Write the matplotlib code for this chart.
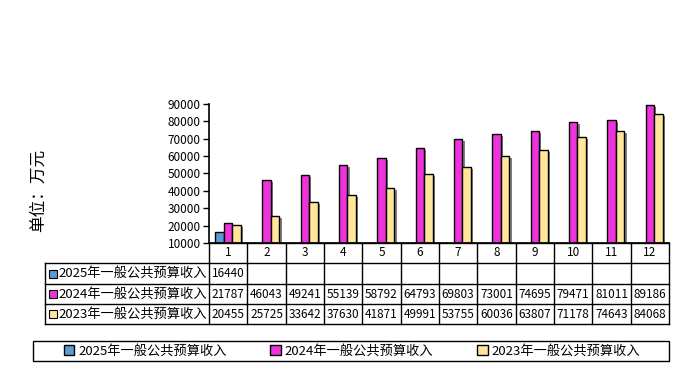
import numpy as np
import matplotlib
matplotlib.use("Agg")
import matplotlib.pyplot as plt
from matplotlib import patheffects
from matplotlib.lines import Line2D
from matplotlib.patches import Rectangle

plt.rcParams['font.family'] = ['Noto Sans CJK SC', 'DejaVu Sans']

# data
months = ['1', '2', '3', '4', '5', '6', '7', '8', '9', '10', '11', '12']
names = ['2025年一般公共预算收入', '2024年一般公共预算收入', '2023年一般公共预算收入']
y2025 = [16440]
y2024 = [21787, 46043, 49241, 55139, 58792, 64793, 69803, 73001, 74695, 79471, 81011, 89186]
y2023 = [20455, 25725, 33642, 37630, 41871, 49991, 53755, 60036, 63807, 71178, 74643, 84068]
colors = ['#5B9BD5', '#EE33DD', '#FFE699']

W, H = 681, 378
fig = plt.figure(figsize=(W / 100, H / 100), dpi=100)

def fx(x):
    return x / W

def fy(y):
    return 1 - y / H

# plot area in pixels
L, R, T, B = 209, 669, 104, 243
ax = fig.add_axes([fx(L), fy(B), fx(R - L), fy(T) - fy(B)])

n = len(months)
x = np.arange(n)
bw = 0.225
shadow = [patheffects.SimplePatchShadow(offset=(1.5, -1.5), shadow_rgbFace='#808080', alpha=1.0),
          patheffects.Normal()]
series = [y2025, y2024, y2023]
for i, vals in enumerate(series):
    xs = x[:len(vals)] + (i - 1) * bw
    bars = ax.bar(xs, np.array(vals) - 10000, bottom=10000, width=bw,
                  color=colors[i], edgecolor='black', linewidth=1.0, label=names[i])
    for b in bars:
        b.set_path_effects(shadow)

ax.set_xlim(-0.5, n - 0.5)
ax.set_ylim(10000, 90000)
ax.set_yticks(np.arange(10000, 90001, 10000))
ax.set_xticks([])
ax.tick_params(axis='y', labelsize=8.5, length=4, width=1, color='black', pad=2)
for s in ['top', 'right']:
    ax.spines[s].set_visible(False)
ax.spines['left'].set_linewidth(1.2)
ax.spines['bottom'].set_linewidth(1.2)

fig.text(fx(38), fy(190), '单位：万元', rotation=90, fontsize=12, ha='center', va='center')

# data table
colw = (R - L) / n
rows_y = [243, 263, 284, 304, 324]
TL = 45
lines = []
lines.append(((L, R), (rows_y[0], rows_y[0])))
for yy in rows_y[1:]:
    lines.append(((TL, R), (yy, yy)))
for i in range(n + 1):
    lines.append(((L + i * colw, L + i * colw), (rows_y[0], rows_y[-1])))
lines.append(((TL, TL), (rows_y[1], rows_y[-1])))
for (xx, yy) in lines:
    fig.add_artist(Line2D([fx(v) for v in xx], [fy(v) for v in yy],
                          color='black', linewidth=1.0))

for i, m in enumerate(months):
    fig.text(fx(L + (i + 0.5) * colw), fy((rows_y[0] + rows_y[1]) / 2), m,
             ha='center', va='center', fontsize=8.5)

for r, vals in enumerate(series):
    yc = (rows_y[r + 1] + rows_y[r + 2]) / 2
    fig.add_artist(Rectangle((fx(49), fy(yc + 4)), fx(8), fy(yc - 4) - fy(yc + 4),
                             facecolor=colors[r], edgecolor='black', linewidth=0.8))
    fig.text(fx(58), fy(yc), names[r], ha='left', va='center', fontsize=9.5)
    for i, v in enumerate(vals):
        fig.text(fx(L + (i + 0.5) * colw), fy(yc), str(v),
                 ha='center', va='center', fontsize=8.5)

# legend
fig.add_artist(Rectangle((fx(33), fy(361)), fx(669 - 33), fy(341) - fy(361),
                         facecolor='none', edgecolor='black', linewidth=1.0))
leg = fig.legend(loc='center', ncol=3, bbox_to_anchor=(fx(352), fy(351)),
                 frameon=False, fontsize=9.5, handlelength=0.8, handleheight=0.8,
                 handletextpad=0.3, columnspacing=3.3, borderaxespad=0, borderpad=0)
for h in leg.legend_handles:
    h.set_path_effects([])

fig.savefig('out.png', dpi=100)
